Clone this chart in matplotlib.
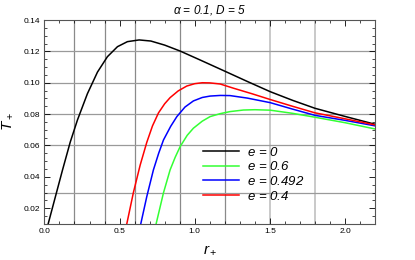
import numpy as np
import matplotlib
matplotlib.use("Agg")
import matplotlib.pyplot as plt
from matplotlib.ticker import MultipleLocator

plt.rcParams['font.family'] = ['Liberation Sans', 'DejaVu Sans']
plt.rcParams['mathtext.fontset'] = 'custom'
plt.rcParams['mathtext.it'] = 'Liberation Sans:italic'
plt.rcParams['mathtext.rm'] = 'Liberation Sans'

# values
r_e0 = [0.025, 0.12, 0.172, 0.220, 0.286, 0.353, 0.419, 0.486, 0.552, 0.630, 0.708, 0.80, 0.903, 1.036,
        1.19, 1.35, 1.502, 1.65, 1.80, 2.0, 2.2]
T_e0 = [0.010, 0.0442, 0.0622, 0.0763, 0.0930, 0.1068, 0.1166, 0.1230, 0.1262, 0.1273, 0.1266, 0.1240,
        0.1202, 0.1145, 0.1078, 0.1008, 0.0943, 0.0888, 0.0837, 0.0785, 0.0735]

r_e04 = [0.548, 0.592, 0.637, 0.681, 0.719, 0.759, 0.80, 0.836, 0.89, 0.947, 1.0, 1.05, 1.10, 1.169,
         1.258, 1.38, 1.502, 1.65, 1.80, 2.0, 2.2]
T_e04 = [0.010, 0.0300, 0.0475, 0.0620, 0.0725, 0.0808, 0.0866, 0.0905, 0.0948, 0.0979, 0.0994, 0.1000,
         0.0999, 0.0992, 0.0965, 0.0930, 0.0893, 0.0850, 0.0808, 0.0770, 0.0731]

r_e0492 = [0.641, 0.681, 0.725, 0.76, 0.792, 0.84, 0.881, 0.935, 0.991, 1.05, 1.102, 1.17, 1.235, 1.35,
           1.502, 1.65, 1.80, 2.0, 2.2]
T_e0492 = [0.010, 0.0274, 0.0444, 0.0550, 0.0635, 0.0722, 0.0784, 0.0845, 0.0884, 0.0906, 0.0915, 0.0919,
           0.0918, 0.0902, 0.0873, 0.0832, 0.0792, 0.0760, 0.0725]

r_e06 = [0.743, 0.792, 0.836, 0.87, 0.903, 0.95, 0.991, 1.05, 1.102, 1.17, 1.235, 1.324, 1.40, 1.502,
         1.65, 1.80, 2.0, 2.2]
T_e06 = [0.010, 0.0298, 0.0444, 0.0525, 0.0593, 0.0665, 0.0710, 0.0755, 0.0784, 0.0803, 0.0816, 0.0826,
         0.0828, 0.0825, 0.0805, 0.0780, 0.0745, 0.0705]

fig = plt.figure(figsize=(4.15, 2.6), dpi=100)
ax = fig.add_axes([0.107, 0.139, 0.797, 0.784])

for x in [0.2, 0.4, 0.6, 0.9, 1.2]:
    ax.axvline(x, color='#8a8a8a', lw=0.9, zorder=0)
for x in [1.5, 1.8]:
    ax.axvline(x, color='#c0c0c0', lw=1.2, zorder=0)
for y in [0.03, 0.06, 0.08, 0.10, 0.12]:
    ax.axhline(y, color='#9a9a9a', lw=0.9, zorder=0)

ax.plot(r_e0, T_e0, color='black', lw=1.1, label='$e$ = 0')
ax.plot(r_e06, T_e06, color='#33ff33', lw=1.1, label='$e$ = 0.6')
ax.plot(r_e0492, T_e0492, color='#0000ff', lw=1.1, label='$e$ = 0.492')
ax.plot(r_e04, T_e04, color='#ff0000', lw=1.1, label='$e$ = 0.4')

ax.set_xlim(0, 2.2)
ax.set_ylim(0.01, 0.14)
ax.xaxis.set_minor_locator(MultipleLocator(0.1))
ax.yaxis.set_minor_locator(MultipleLocator(0.005))
ax.set_xticks([0.0, 0.5, 1.0, 1.5, 2.0])
ax.set_xticklabels(['0.0', '0.5', '1.0', '1.5', '2.0'])
ax.set_yticks([0.02, 0.04, 0.06, 0.08, 0.10, 0.12, 0.14])
ax.set_yticklabels(['0.02', '0.04', '0.06', '0.08', '0.10', '0.12', '0.14'])
ax.tick_params(which='both', direction='in', top=True, right=True, labelsize=6, pad=3)
ax.tick_params(which='major', length=4, width=0.6)
ax.tick_params(which='minor', length=2, width=0.5)
for s in ax.spines.values():
    s.set_color('#555555')
    s.set_linewidth(0.8)

ax.set_title(r'$\alpha$ = 0.1, $D$ = 5', fontsize=8.5, style='italic', pad=5)
ax.set_xlabel('$r_+$', fontsize=11, labelpad=6)
ax.set_ylabel('$T_+$', fontsize=11, labelpad=6)

leg = ax.legend(loc='upper left', bbox_to_anchor=(0.46, 0.415), frameon=False,
                fontsize=9.5, handlelength=2.7, handletextpad=0.6,
                labelspacing=0.12, borderpad=0)
for t in leg.get_texts():
    t.set_fontstyle('italic')

fig.savefig('out.png', dpi=100)
